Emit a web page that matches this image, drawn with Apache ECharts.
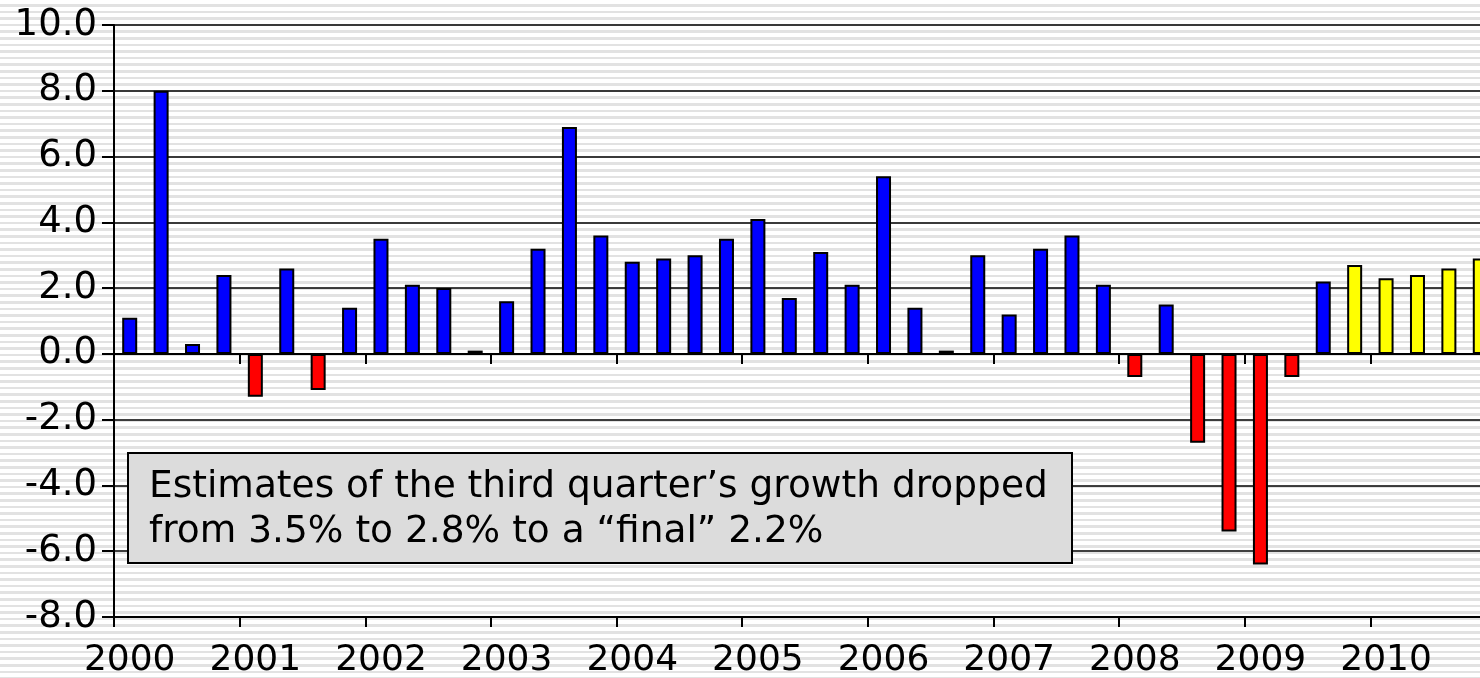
<!DOCTYPE html>
<html>
<head>
<meta charset="utf-8">
<script src="https://cdn.jsdelivr.net/npm/echarts@6/dist/echarts.min.js"></script>
<style>
  html, body { margin: 0; padding: 0; }
  body {
    width: 1480px; height: 678px; overflow: hidden;
    background: repeating-linear-gradient(to bottom, #ffffff 0px, #ffffff 4px, #e2e2e2 4px, #e2e2e2 6.6px);
  }
  #chart { width: 1480px; height: 678px; }
</style>
</head>
<body>
<div id="chart"></div>
<script>
// ---- data ----
const years = ['2000','2001','2002','2003','2004','2005','2006','2007','2008','2009','2010'];
const quarters = ['Q1','Q2','Q3','Q4'];
const growth = [
  1.1, 8.0, 0.3, 2.4,     // 2000
  -1.3, 2.6, -1.1, 1.4,   // 2001
  3.5, 2.1, 2.0, 0.1,     // 2002
  1.6, 3.2, 6.9, 3.6,     // 2003
  2.8, 2.9, 3.0, 3.5,     // 2004
  4.1, 1.7, 3.1, 2.1,     // 2005
  5.4, 1.4, 0.1, 3.0,     // 2006
  1.2, 3.2, 3.6, 2.1,     // 2007
  -0.7, 1.5, -2.7, -5.4,  // 2008
  -6.4, -0.7, 2.2, 2.7,   // 2009
  2.3, 2.4, 2.6, 2.9      // 2010
];
const forecastStart = 39; // index of first forecast quarter (2009 Q4)
const yTicks = [-8, -6, -4, -2, 0, 2, 4, 6, 8, 10];
const noteLines = ['Estimates of the third quarter\u2019s growth dropped', 'from 3.5% to 2.8% to a \u201cfinal\u201d 2.2%'];

const categories = [];
years.forEach(y => quarters.forEach(q => categories.push(y + ' ' + q)));

const FONT = 'Verdana, "DejaVu Sans", sans-serif';

const chart = echarts.init(document.getElementById('chart'), null, { renderer: 'canvas' });
chart.setOption({
  backgroundColor: 'transparent',
  animation: false,
  grid: { left: 114, right: -16, top: 25, bottom: 61, containLabel: false, outerBoundsMode: 'none' },
  xAxis: [
    {
      type: 'category',
      data: categories,
      position: 'bottom',
      boundaryGap: true,
      axisLine: { onZero: false, lineStyle: { color: '#000', width: 2 } },
      axisTick: { show: true, interval: 3, length: 10, lineStyle: { color: '#000', width: 2 } },
      axisLabel: {
        interval: 3,
        margin: 26,
        color: '#000',
        fontSize: 36,
        fontFamily: FONT,
        formatter: v => v.split(' ')[0]
      },
      splitLine: { show: false }
    },
    {
      type: 'category',
      data: categories,
      position: 'bottom',
      boundaryGap: true,
      axisLine: { onZero: true, lineStyle: { color: '#000', width: 2 } },
      axisTick: { show: true, interval: 3, length: 10, lineStyle: { color: '#000', width: 2 } },
      axisLabel: { show: false },
      splitLine: { show: false }
    }
  ],
  yAxis: {
    type: 'value',
    min: yTicks[0],
    max: yTicks[yTicks.length - 1],
    interval: 2,
    axisLine: { show: true, lineStyle: { color: '#000', width: 2 } },
    axisTick: { show: true, length: 12, lineStyle: { color: '#000', width: 2 } },
    axisLabel: {
      margin: 17,
      color: '#000',
      fontSize: 37,
      fontFamily: FONT,
      formatter: v => v.toFixed(1)
    },
    splitLine: { show: true, lineStyle: { color: '#000', width: 1.5 } }
  },
  series: [{
    type: 'bar',
    xAxisIndex: 0,
    data: growth,
    barWidth: 15,
    itemStyle: {
      borderColor: '#000',
      borderWidth: 2,
      color: p => p.dataIndex >= forecastStart ? '#ffff00' : (p.value < 0 ? '#ff0000' : '#0000ff')
    }
  }],
  graphic: [{
    type: 'group',
    left: 127,
    top: 452,
    z: 100,
    children: [
      {
        type: 'rect',
        z: 100,
        shape: { x: 0, y: 0, width: 944, height: 110 },
        style: { fill: '#dcdcdc', stroke: '#000', lineWidth: 2 }
      },
      {
        type: 'text',
        z: 101,
        x: 21,
        y: 12,
        style: {
          text: noteLines.join('\n'),
          font: '37.5px ' + FONT,
          fill: '#000',
          lineHeight: 45,
          verticalAlign: 'top',
          align: 'left'
        }
      }
    ]
  }]
});
</script>
</body>
</html>
